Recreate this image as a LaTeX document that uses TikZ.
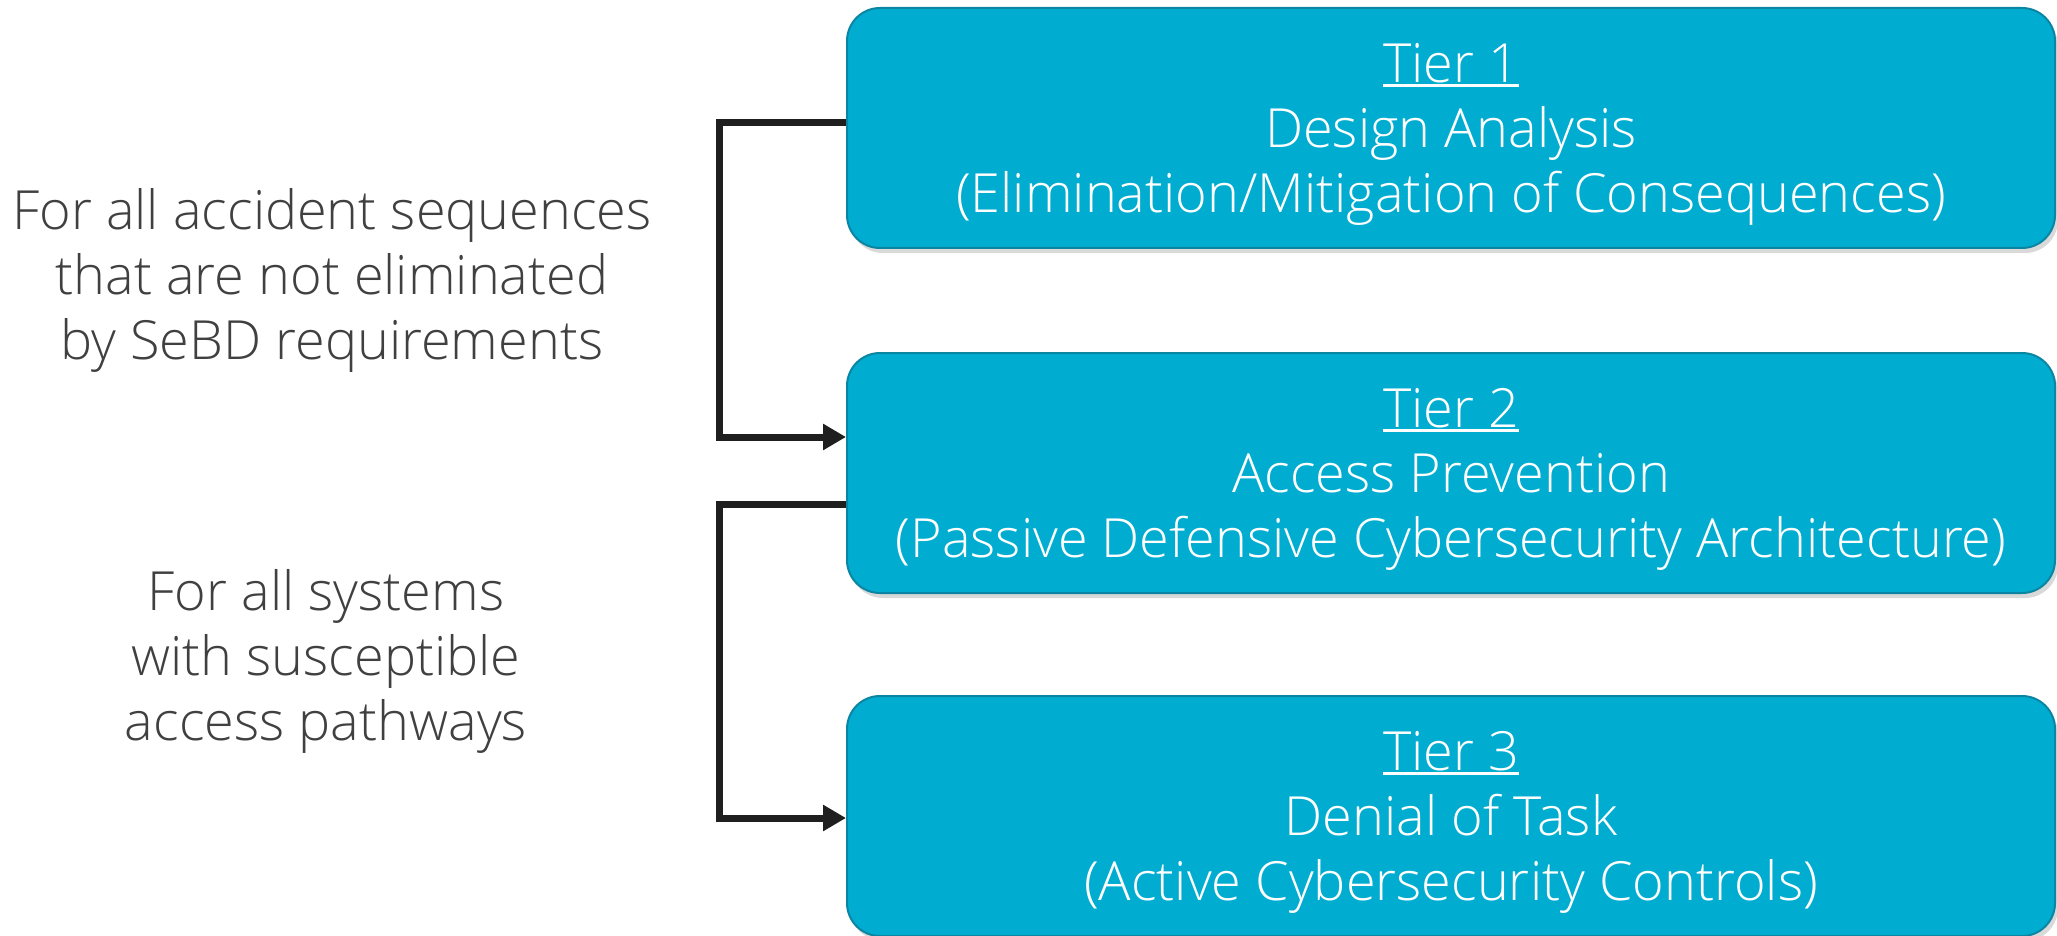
\documentclass[tikz,border=0pt]{standalone}
\usepackage{fontspec}
\IfFontExistsTF{Open Sans Light}{\setmainfont{Open Sans Light}}{\setmainfont{Open Sans}}
\usetikzlibrary{arrows.meta,shadows}
\definecolor{tierfill}{HTML}{00ADD0}
\definecolor{tierdraw}{HTML}{0A86A3}
\definecolor{sidetext}{HTML}{404040}
\definecolor{connclr}{HTML}{1F1F1F}
\newcommand\tierul[1]{\setbox0\hbox{#1}\rlap{\rule[-5pt]{\wd0}{3.5pt}}\box0}
\begin{document}
\begin{tikzpicture}[x=1pt,y=-1pt,
  tierbox/.style={draw=tierdraw, line width=2pt, fill=tierfill, rounded corners=33pt,
    minimum width=1208pt, minimum height=240pt,
    drop shadow={opacity=0.3, shadow xshift=3pt, shadow yshift=-5pt}},
  tiertext/.style={text=white, align=center, font=\fontsize{54}{65}\selectfont},
  sidelabel/.style={text=sidetext, align=center, font=\fontsize{54}{65}\selectfont},
  conn/.style={draw=connclr, line width=7pt, -{Triangle[length=23pt,width=25pt]}}]
\useasboundingbox (0,0) rectangle (2057,936);
\node[tierbox] (b1) at (1451,128) {};
\node[tierbox] (b2) at (1451,473) {};
\node[tierbox] (b3) at (1451,816) {};
\node[tiertext] (t1) at ([yshift=-6pt]b1.center) {\tierul{Tier 1}\\Design Analysis\\(Elimination/Mitigation of Consequences)};
\node[tiertext] (t2) at ([yshift=-6pt]b2.center) {\tierul{Tier 2}\\Access Prevention\\(Passive Defensive Cybersecurity Architecture)};
\node[tiertext] (t3) at ([yshift=-6pt]b3.center) {\tierul{Tier 3}\\Denial of Task\\(Active Cybersecurity Controls)};
\node[sidelabel] (s1) at (332,280) {For all accident sequences\\that are not eliminated\\by SeBD requirements};
\node[sidelabel] (s2) at (326,661) {For all systems\\with susceptible\\access pathways};
\draw[conn] ([yshift=5pt]b1.west) -- ++(-127,0) |- ([yshift=36pt]b2.west);
\draw[conn] ([yshift=-31pt]b2.west) -- ++(-127,0) |- ([yshift=-2pt]b3.west);
\end{tikzpicture}
\end{document}
